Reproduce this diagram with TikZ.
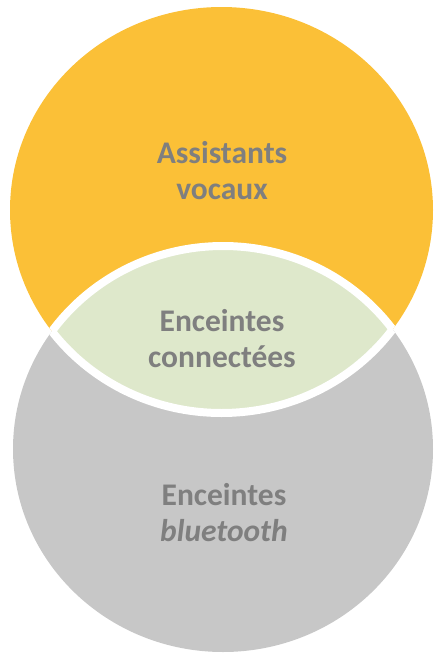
\documentclass[tikz,border=0pt]{standalone}
\usepackage{fontspec}
\setmainfont{Carlito}
\begin{document}
\definecolor{vocal}{HTML}{FBC037}
\definecolor{speaker}{HTML}{C7C7C7}
\definecolor{overlap}{HTML}{DEE8CB}
\definecolor{labelgray}{HTML}{7F7F7F}
\begin{tikzpicture}[x=1pt,y=-1pt,
  label text/.style={text=labelgray, font=\bfseries\fontsize{31.5}{36}\selectfont, align=center, inner sep=0pt},
  seam/.style={draw=white, line width=8pt}]
\useasboundingbox (0,0) rectangle (434,653);
% the two sets
\def\toppath{(221.5,210) ellipse [x radius=211.5, y radius=203]}
\def\botpath{(223,449) ellipse [x radius=210, y radius=203]}
\fill[vocal] \toppath;
\fill[speaker] \botpath;
% overlap region
\begin{scope}
  \clip \toppath;
  \fill[overlap] \botpath;
  \draw[seam] \botpath;
\end{scope}
\begin{scope}
  \clip \botpath;
  \draw[seam] \toppath;
\end{scope}
% labels
\node[label text] (assist) at (222,171) {Assistants\\vocaux};
\node[label text] (connect) at (222,339) {Enceintes\\connectées};
\node[label text] (bt) at (224,513) {Enceintes\\\itshape bluetooth};
\end{tikzpicture}
\end{document}
